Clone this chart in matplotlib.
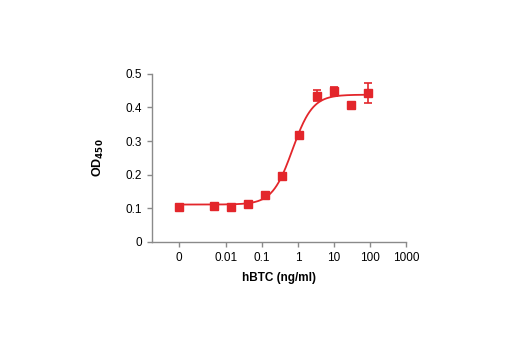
import numpy as np
import matplotlib.pyplot as plt

## dose-response data (hBTC, ng/ml) and OD450 readings
conc = [0, 0.0045, 0.0135, 0.04, 0.12, 0.36, 1.07, 3.3, 9.7, 29, 88]
od = [0.105, 0.108, 0.105, 0.114, 0.140, 0.196, 0.318, 0.435, 0.448, 0.408, 0.443]
od_err = [0, 0, 0, 0, 0, 0, 0, 0.016, 0.013, 0, 0.029]

tick_vals = [0, 0.01, 0.1, 1, 10, 100, 1000]
tick_labels = ['0', '0.01', '0.1', '1', '10', '100', '1000']

# 4-parameter logistic fit
bottom, top, ec50, hill = 0.111, 0.438, 0.70, 1.55

zero_pos = -3.3  # where the zero dose sits on the log axis
red = '#e3262b'
grey = '#8a8a8a'


def to_axis(c):
    c = np.asarray(c, dtype=float)
    out = np.full(c.shape, zero_pos)
    out[c > 0] = np.log10(c[c > 0])
    return out


plt.rcParams['font.family'] = ['Liberation Sans Narrow', 'Liberation Sans', 'DejaVu Sans']

fig = plt.figure(figsize=(5.2, 3.5), dpi=100)
ax = fig.add_axes([0.292, 0.309, 0.489, 0.48])

xs = to_axis(conc)
u = np.linspace(zero_pos, np.log10(90), 300)
fit = bottom + (top - bottom) / (1 + (ec50 / 10**u) ** hill)
ax.plot(u, fit, color=red, lw=1.3, zorder=2)

err = np.array(od_err)
ax.errorbar(xs, od, yerr=np.where(err > 0, err, np.nan), fmt='s', color=red,
            ms=5.5, elinewidth=1.2, capsize=3, capthick=1.2, zorder=3)

ax.set_xlim(-4.06, 3.0)
ax.set_ylim(0, 0.5)
ax.set_xticks(to_axis(tick_vals))
ax.set_xticklabels(tick_labels)
ax.set_yticks([0, 0.1, 0.2, 0.3, 0.4, 0.5])
ax.set_yticklabels(['0', '0.1', '0.2', '0.3', '0.4', '0.5'])

for side in ['top', 'right']:
    ax.spines[side].set_visible(False)
for side in ['left', 'bottom']:
    ax.spines[side].set_color(grey)
    ax.spines[side].set_linewidth(1.0)
ax.tick_params(colors=grey, labelcolor='black', labelsize=8.5, length=3.5, width=1.0)

ax.set_xlabel('hBTC (ng/ml)', fontsize=8.5, fontweight='bold', labelpad=6)
ax.set_ylabel(r'OD$_{\mathbf{450}}$', fontsize=9, fontweight='bold', labelpad=14)

fig.savefig('out.png', dpi=100)
